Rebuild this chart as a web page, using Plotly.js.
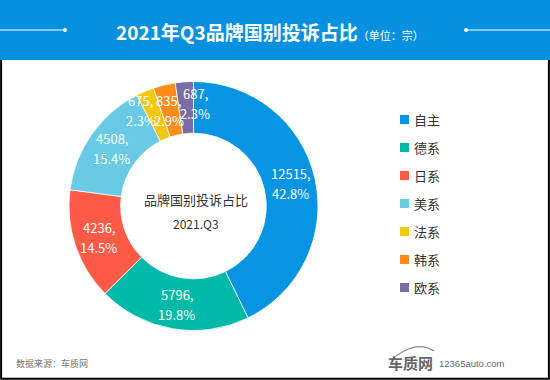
<!DOCTYPE html>
<html>
<head>
<meta charset="utf-8">
<script src="https://cdn.plot.ly/plotly-3.0.1.min.js"></script>
<style>html,body{margin:0;padding:0;background:#fff;}#chart{width:550px;height:380px;}</style>
</head>
<body>
<div id="chart"></div>
<script>
const categories = ["自主", "德系", "日系", "美系", "法系", "韩系", "欧系"];
const complaints = [12515, 5796, 4236, 4508, 675, 835, 687];
const colors = ["#0794e3", "#00b9a8", "#ff5a45", "#68cae4", "#f2c80f", "#ff8b1d", "#7a6da3"];
const titleText = "2021年Q3品牌国别投诉占比";
const unitText = "（单位：宗）";
const centerLine1 = "品牌国别投诉占比";
const centerLine2 = "2021.Q3";
const sourceText = "数据来源：车质网";

const W = 550, H = 380;
const px = x => x / W;
const py = y => 1 - y / H;
const FONT = "Noto Sans CJK SC, Microsoft YaHei, sans-serif";

// pie geometry (pixels)
const CX = 193.5, CY = 206, R = 124.5;

const trace = {
  type: "pie",
  labels: categories,
  values: complaints,
  sort: false,
  direction: "clockwise",
  rotation: 0,
  hole: 0.585,
  marker: {colors: colors, line: {color: "#ffffff", width: 0.8}},
  textinfo: "none",
  domain: {x: [px(CX - R), px(CX + R)], y: [py(CY + R), py(CY - R)]},
  showlegend: false,
  hoverinfo: "label+value+percent"
};

const shapes = [
  {type: "path", xref: "paper", yref: "paper",
   path: `M 0.002 ${py(60)} L 0.002 0.003 L 0.998 0.003 L 0.998 ${py(60)}`,
   line: {color: "#000000", width: 2}},
  {type: "rect", xref: "paper", yref: "paper", x0: 0, x1: 1, y0: py(60), y1: 1,
   fillcolor: "#0790e0", line: {width: 0}, layer: "below"},
  {type: "line", xref: "paper", yref: "paper", x0: 0, x1: px(65), y0: py(30), y1: py(30),
   line: {color: "#ffffff", width: 1}},
  {type: "line", xref: "paper", yref: "paper", x0: px(466), x1: 1, y0: py(30), y1: py(30),
   line: {color: "#ffffff", width: 1}},
  {type: "circle", xref: "paper", yref: "paper", x0: px(63), x1: px(67), y0: py(32), y1: py(28),
   fillcolor: "#ffffff", line: {width: 0}},
  {type: "circle", xref: "paper", yref: "paper", x0: px(464), x1: px(468), y0: py(32), y1: py(28),
   fillcolor: "#ffffff", line: {width: 0}},
  {type: "path", xref: "paper", yref: "paper",
   path: `M ${px(396)} ${py(356)} Q ${px(418)} ${py(340)} ${px(434)} ${py(351)}`,
   line: {color: "#888888", width: 1.2}}
];

const annotations = [
  {xref: "paper", yref: "paper", x: px(270), y: py(31), xanchor: "center", yanchor: "middle",
   showarrow: false,
   text: `<b>${titleText}</b><span style="font-size:11px">${unitText}</span>`,
   font: {color: "#ffffff", size: 19, family: FONT}},
  {xref: "paper", yref: "paper", x: px(196), y: py(199), xanchor: "center", yanchor: "middle",
   showarrow: false, text: centerLine1, font: {color: "#333333", size: 13, family: FONT}},
  {xref: "paper", yref: "paper", x: px(196), y: py(223), xanchor: "center", yanchor: "middle",
   showarrow: false, text: centerLine2, font: {color: "#333333", size: 12, family: FONT}},
  {xref: "paper", yref: "paper", x: px(14), y: py(363), xanchor: "left", yanchor: "middle",
   showarrow: false, text: sourceText, font: {color: "#777777", size: 9, family: FONT}},
  {xref: "paper", yref: "paper", x: px(435), y: py(362), xanchor: "right", yanchor: "middle",
   showarrow: false, text: "<b>车质网</b>", font: {color: "#666666", size: 15, family: FONT}},
  {xref: "paper", yref: "paper", x: px(437), y: py(363), xanchor: "left", yanchor: "middle",
   showarrow: false, text: "12365auto.com", font: {color: "#666666", size: 9.5, family: "Liberation Sans, Arial, sans-serif"}}
];

// slice labels: placed at each slice's mid-angle, computed from the values
const total = complaints.reduce((a, b) => a + b, 0);
const labelNudge = [0, 0, 0, 0, -14, -1, 9];   // small slices spread apart as in the original
const labelLift = [0, 0, 0, 0, -3, 2, -3];
let cum = 0;
complaints.forEach((v, i) => {
  const mid = (cum + v / 2) / total;
  cum += v;
  const ang = mid * 2 * Math.PI;
  const rr = 100;
  const x = CX + rr * Math.sin(ang) + labelNudge[i];
  const y = CY - rr * Math.cos(ang) + labelLift[i];
  const pct = (v / total * 100).toFixed(1) + "%";
  annotations.push({xref: "paper", yref: "paper", x: px(x), y: py(y - 10), xanchor: "center", yanchor: "middle",
    showarrow: false, text: v + ",", font: {color: "#ffffff", size: 13, family: FONT}});
  annotations.push({xref: "paper", yref: "paper", x: px(x), y: py(y + 10), xanchor: "center", yanchor: "middle",
    showarrow: false, text: pct, font: {color: "#ffffff", size: 13, family: FONT}});
});

// legend built from the category and colour arrays
categories.forEach((c, i) => {
  const cy = 119.5 + 28 * i;
  shapes.push({type: "rect", xref: "paper", yref: "paper",
    x0: px(400), x1: px(409), y0: py(cy + 4.5), y1: py(cy - 4.5),
    fillcolor: colors[i], line: {width: 0}});
  annotations.push({xref: "paper", yref: "paper", x: px(412), y: py(cy), xanchor: "left", yanchor: "middle",
    showarrow: false, text: c, font: {color: "#333333", size: 13, family: FONT}});
});

const layout = {
  width: W, height: H,
  margin: {l: 0, r: 0, t: 0, b: 0},
  paper_bgcolor: "#ffffff",
  plot_bgcolor: "#ffffff",
  showlegend: false,
  shapes: shapes,
  annotations: annotations
};

Plotly.newPlot("chart", [trace], layout, {displayModeBar: false, staticPlot: true});
</script>
</body>
</html>
